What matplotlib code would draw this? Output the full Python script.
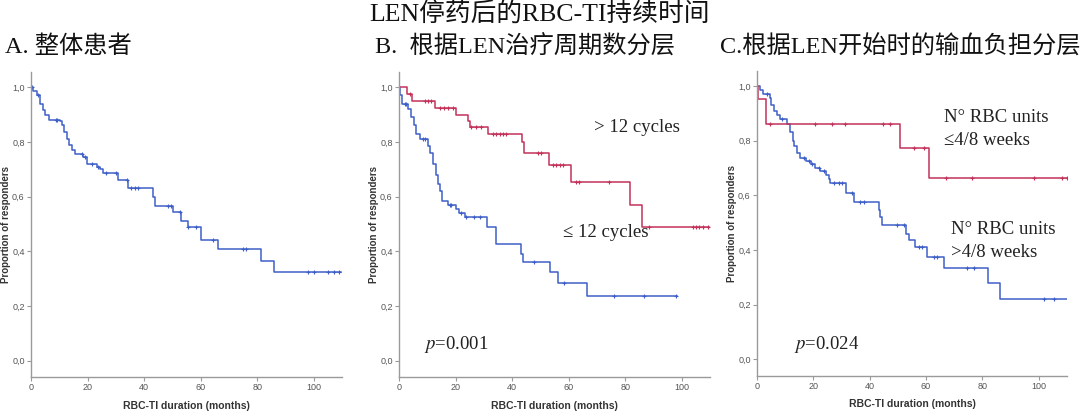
import numpy as np
import matplotlib
matplotlib.use("Agg")
import matplotlib.pyplot as plt

plt.rcParams["mathtext.fontset"] = "stix"

# font families: Latin serif first, CJK as fallback
SERIF_CJK = ["Liberation Serif", "Noto Sans CJK SC", "DejaVu Sans"]
SANS = ["Liberation Sans", "DejaVu Sans"]

BLUE = "#3f5fc8"
RED = "#c4325a"

# ---- panel A: all patients ----
a_t = [0, 0.8, 2.0, 3.2, 4.1, 4.9, 6.2, 10.2, 10.9, 11.8, 12.6, 13.5, 14.4, 15.5,
       18.5, 19.9, 23.2, 24.3, 25.5, 30.8, 34.4, 43.2, 43.8, 50.2, 53.2, 55.5,
       60.2, 66.1, 81.4, 86.1]
a_s = [1.0, 0.985, 0.97, 0.94, 0.915, 0.90, 0.88, 0.875, 0.86, 0.835, 0.81, 0.79,
       0.77, 0.755, 0.745, 0.72, 0.71, 0.70, 0.685, 0.66, 0.63, 0.60, 0.565, 0.545,
       0.51, 0.49, 0.44, 0.41, 0.365, 0.325]
a_end = 109.6
a_cens = [0.5, 2.6, 8.8, 9.3, 17.9, 19.1, 21.4, 23.8, 26.7, 30.2, 33.8, 35.5, 36.7,
          37.9, 48.5, 49.6, 52.6, 55.5, 58.5, 64.4, 74.9, 76.1, 97.9, 100.2, 104.9,
          107.3, 109.1]

# ---- panel B: by number of LEN cycles ----
b_hi_t = [0, 2.9, 4.7, 12.6, 20.3, 24.4, 25.0, 31.4, 43.6, 44.1, 52.9, 60.7, 81.7, 86.0]
b_hi_s = [1.0, 0.975, 0.948, 0.925, 0.90, 0.875, 0.855, 0.828, 0.80, 0.76, 0.715,
          0.655, 0.57, 0.49]
b_hi_end = 109.8
b_hi_cens = [3.8, 9.1, 10.3, 11.4, 14.4, 16.1, 17.3, 19.1, 25.6, 27.3, 29.1, 33.2,
             34.4, 35.6, 36.7, 37.9, 49.1, 50.3, 54.4, 55.6, 56.8, 57.9, 62.7, 63.8,
             74.4, 88.6, 103.9, 105.1, 106.2, 107.4, 109.2]

b_lo_t = [0, 0.2, 1.2, 3.2, 4.4, 5.2, 6.1, 7.3, 10.2, 11.1, 12.0, 13.0, 13.8, 14.4,
          15.3, 17.3, 20.3, 21.4, 23.2, 31.1, 34.4, 43.2, 43.8, 53.5, 56.4, 66.5]
b_lo_s = [1.0, 0.97, 0.94, 0.92, 0.89, 0.86, 0.83, 0.81, 0.785, 0.76, 0.72, 0.68,
          0.645, 0.62, 0.585, 0.57, 0.555, 0.54, 0.525, 0.49, 0.425, 0.39, 0.36,
          0.325, 0.285, 0.235]
b_lo_end = 98.3
b_lo_cens = [2.0, 2.6, 8.5, 9.1, 17.9, 18.5, 22.0, 23.8, 26.7, 28.5, 47.9, 58.5,
             76.2, 86.8, 98.0]

# ---- panel C: by transfusion burden at LEN start ----
c_lo_t = [0, 0.2, 3.2, 50.7, 60.9]
c_lo_s = [1.0, 0.953, 0.859, 0.772, 0.662]
c_lo_end = 110.0
c_lo_cens = [4.7, 20.5, 26.6, 31.1, 44.7, 47.3, 55.6, 59.2, 67.1, 76.3, 98.2,
             108.3, 109.9]

c_hi_t = [0, 0.9, 2.1, 4.5, 5.0, 5.9, 7.1, 8.3, 10.7, 11.8, 12.8, 13.3, 14.2, 15.1,
          17.5, 19.2, 20.7, 22.5, 24.6, 25.4, 26.0, 31.7, 34.6, 43.2, 43.6, 44.4,
          52.8, 53.8, 56.2, 60.4, 66.3, 81.9, 86.4]
c_hi_s = [1.0, 0.985, 0.97, 0.955, 0.93, 0.91, 0.895, 0.88, 0.86, 0.83, 0.80, 0.78,
          0.755, 0.735, 0.725, 0.715, 0.70, 0.69, 0.675, 0.66, 0.645, 0.61, 0.575,
          0.545, 0.52, 0.49, 0.46, 0.435, 0.41, 0.375, 0.335, 0.28, 0.22]
c_hi_end = 110.0
c_hi_cens = [3.6, 8.9, 16.6, 18.3, 19.5, 21.9, 23.7, 27.2, 29.0, 30.2, 33.7, 36.7,
             37.9, 49.7, 52.1, 57.4, 58.6, 62.7, 63.9, 74.6, 76.9, 101.8, 105.3]

y_ticks = [0.0, 0.2, 0.4, 0.6, 0.8, 1.0]
y_labels = ["0,0", "0,2", "0,4", "0,6", "0,8", "1,0"]
x_ticks = [0, 20, 40, 60, 80, 100]


def km_curve(ax, t, s, t_end, cens, color):
    tt = np.array(list(t) + [t_end])
    ss = np.array(list(s) + [s[-1]])
    ax.step(tt, ss, where="post", color=color, lw=1.1)
    idx = np.searchsorted(np.array(t), np.array(cens), side="right") - 1
    ax.plot(cens, np.array(s)[idx], "+", color=color, ms=3.5, mew=0.8)


def style_axes(ax):
    ax.set_xlim(0, 110)
    ax.set_ylim(-0.06, 1.055)
    ax.set_yticks(y_ticks)
    ax.set_yticklabels(y_labels)
    ax.set_xticks(x_ticks)
    for side in ["top", "right"]:
        ax.spines[side].set_visible(False)
    for side in ["left", "bottom"]:
        ax.spines[side].set_color("#9a9a9a")
        ax.spines[side].set_linewidth(1.0)
    ax.tick_params(labelsize=6.5, colors="#9a9a9a", labelcolor="#555555",
                   length=3, width=0.8, pad=1.5)
    for lab in ax.get_xticklabels() + ax.get_yticklabels():
        lab.set_family(SANS)
    ax.set_xlabel("RBC-TI duration (months)", fontsize=7.5, fontweight="bold",
                  family=SANS, color="#333333", labelpad=6)
    ax.set_ylabel("Proportion of responders", fontsize=7, fontweight="bold",
                  family=SANS, color="#333333")
    ax.yaxis.set_label_coords(-0.063, 0.5)


fig = plt.figure(figsize=(10.8, 4.17), dpi=100)
ax_a = fig.add_axes([0.0287, 0.0959, 0.288, 0.731])
ax_b = fig.add_axes([0.3694, 0.0959, 0.288, 0.731])
ax_c = fig.add_axes([0.7009, 0.0990, 0.287, 0.731])

km_curve(ax_a, a_t, a_s, a_end, a_cens, BLUE)

km_curve(ax_b, b_lo_t, b_lo_s, b_lo_end, b_lo_cens, BLUE)
km_curve(ax_b, b_hi_t, b_hi_s, b_hi_end, b_hi_cens, RED)

km_curve(ax_c, c_hi_t, c_hi_s, c_hi_end, c_hi_cens, BLUE)
km_curve(ax_c, c_lo_t, c_lo_s, c_lo_end, c_lo_cens, RED)

for ax in (ax_a, ax_b, ax_c):
    style_axes(ax)

note = dict(fontsize=13.5, family=SERIF_CJK, color="#222222", va="center")
ax_b.text(68.9, 0.854, "> 12 cycles", **note)
ax_b.text(58.0, 0.467, "≤ 12 cycles", **note)
ax_b.text(8.8, 0.058, "$\\it{p}$=0.001", **note)
ax_c.text(66.2, 0.883, "N° RBC units", **note)
ax_c.text(66.2, 0.800, "≤4/8 weeks", **note)
ax_c.text(68.7, 0.475, "N° RBC units", **note)
ax_c.text(68.7, 0.392, ">4/8 weeks", **note)
ax_c.text(13.2, 0.055, "$\\it{p}$=0.024", **note)

fig.text(0.5, 1 - 14 / 417, "LEN停药后的RBC-TI持续时间", ha="center", va="center",
         fontsize=18.5, family=SERIF_CJK, color="#111111")
panel_titles = ["A. 整体患者", "B.  根据LEN治疗周期数分层", "C.根据LEN开始时的输血负担分层"]
panel_x = [5, 375, 720]
for x, title in zip(panel_x, panel_titles):
    fig.text(x / 1080, 1 - 47 / 417, title, ha="left", va="center",
             fontsize=17.5, family=SERIF_CJK, color="#111111")

fig.savefig("out.png", dpi=100)
